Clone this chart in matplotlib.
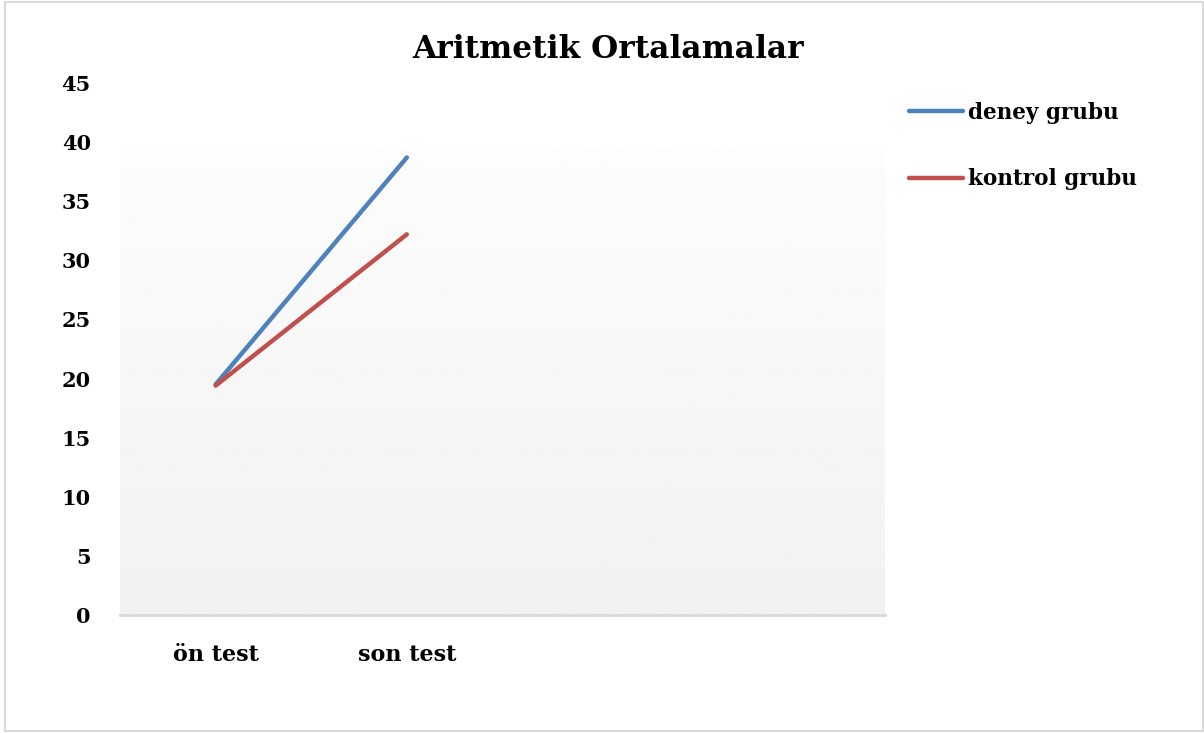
import numpy as np
import matplotlib
matplotlib.use("Agg")
import matplotlib.pyplot as plt
from matplotlib.patches import Rectangle

categories = ["ön test", "son test", "", ""]
deney = [19.5, 38.7]
kontrol = [19.4, 32.2]
yticks = [0, 5, 10, 15, 20, 25, 30, 35, 40, 45]

plt.rcParams["font.family"] = ["DejaVu Serif"]
plt.rcParams["font.weight"] = "bold"

fig = plt.figure(figsize=(12.04, 7.33), dpi=100)
ax = fig.add_axes([120 / 1204, 118 / 733, 765 / 1204, 532 / 733])

x = np.arange(len(categories))

# grey gradient behind the lines, white at top to light grey at the bottom
grad = np.linspace(0.99, 0.945, 256).reshape(-1, 1)
ax.imshow(grad, cmap="gray", vmin=0, vmax=1, aspect="auto",
          extent=[-0.5, 3.5, 0, 39.3], origin="upper", zorder=0)

ax.plot(x[:2], deney, color="#4F81BD", lw=3.2, solid_capstyle="round",
        label="deney grubu", zorder=3)
ax.plot(x[:2], kontrol, color="#C0504D", lw=3.2, solid_capstyle="round",
        label="kontrol grubu", zorder=3)

ax.set_xlim(-0.5, 3.5)
ax.set_ylim(0, 45)
ax.set_xticks(x)
ax.set_xticklabels(categories, fontsize=16, fontweight="bold")
ax.set_yticks(yticks)
ax.set_yticklabels([str(v) for v in yticks], fontsize=15, fontweight="bold")
ax.tick_params(axis="y", length=0, pad=21)
ax.tick_params(axis="x", length=0, pad=21)

for side in ["top", "right", "left"]:
    ax.spines[side].set_visible(False)
ax.spines["bottom"].set_color("#D9D9D9")
ax.spines["bottom"].set_linewidth(2)

fig.text(0.505, 0.933, "Aritmetik Ortalamalar", ha="center", va="center",
         fontsize=22.5, fontweight="bold")

fig.legend(loc="upper left", bbox_to_anchor=(909 / 1204, 1 - 102 / 733),
           frameon=False, handlelength=2.5, handletextpad=0.25,
           borderpad=0, borderaxespad=0, labelspacing=2.05,
           prop={"weight": "bold", "size": 15.5})

# thin frame around the whole figure
fig.patches.append(Rectangle((5 / 1204, 2 / 733), 1 - 6 / 1204, 1 - 4 / 733,
                             transform=fig.transFigure, fill=False,
                             edgecolor="#D9D9D9", lw=1.5))

fig.savefig("out.png", dpi=100)
